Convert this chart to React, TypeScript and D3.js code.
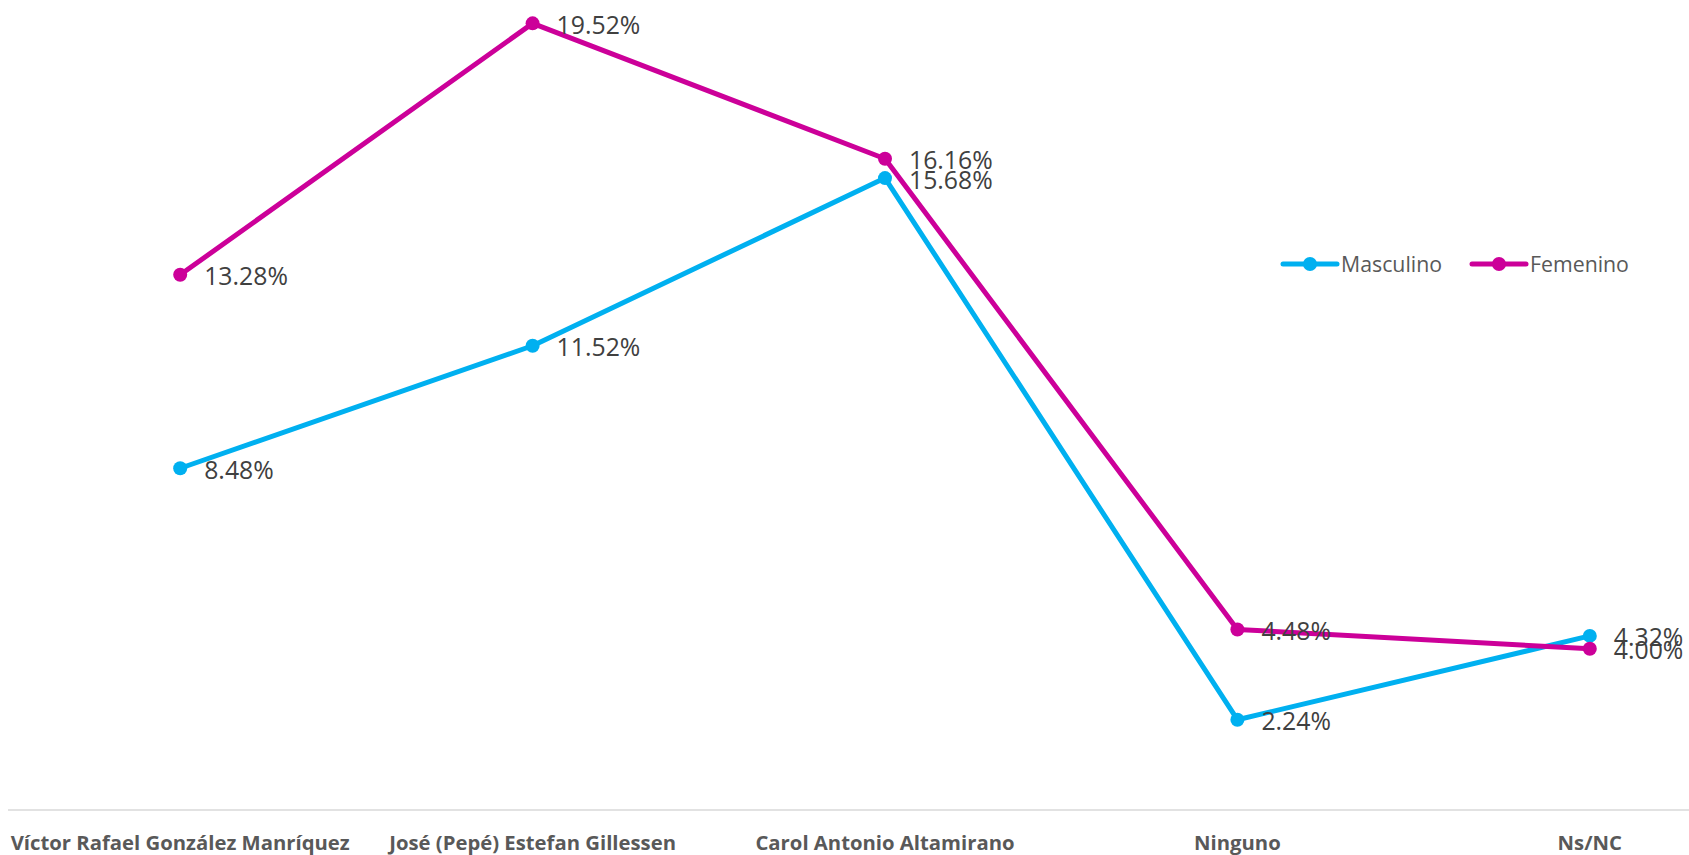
import React from "react";
import * as d3 from "d3";

const categories = [
  "Víctor Rafael González Manríquez",
  "José (Pepé) Estefan Gillessen",
  "Carol Antonio Altamirano",
  "Ninguno",
  "Ns/NC",
];
const masculino = [8.48, 11.52, 15.68, 2.24, 4.32];
const femenino = [13.28, 19.52, 16.16, 4.48, 4.0];
const seriesNames = ["Masculino", "Femenino"];
const seriesColors = ["#00B0F0", "#CC0099"];

const W = 1689;
const H = 855;

export default function App() {
  const x = d3.scaleBand<string>().domain(categories).range([4, 1766]).padding(0);
  const cx = (c: string) => (x(c) as number) + x.bandwidth() / 2;
  const y = d3.scaleLinear().domain([0, 20]).range([810, 4]);
  const line = d3
    .line<number>()
    .x((_, i) => cx(categories[i]))
    .y((d) => y(d));
  const series = [masculino, femenino];
  const legendX = [1283, 1472];

  return (
    <svg
      width={W}
      height={H}
      style={{ position: "absolute", left: 0, top: 0, background: "#fff" }}
      fontFamily="'Open Sans', sans-serif"
    >
      <line x1={8} x2={W} y1={y(0)} y2={y(0)} stroke="#d9d9d9" strokeWidth={1.5} />
      {categories.map((c) => (
        <text
          key={c}
          x={cx(c)}
          y={850}
          textAnchor="middle"
          fontSize={20.3}
          fontWeight={700}
          fill="#595959"
        >
          {c}
        </text>
      ))}
      {series.map((s, si) => (
        <g key={si}>
          <path
            d={line(s) || ""}
            fill="none"
            stroke={seriesColors[si]}
            strokeWidth={5}
            strokeLinejoin="round"
          />
          {s.map((v, i) => (
            <circle key={i} cx={cx(categories[i])} cy={y(v)} r={7} fill={seriesColors[si]} />
          ))}
        </g>
      ))}
      {series.map((s, si) =>
        s.map((v, i) => (
          <text
            key={`${si}-${i}`}
            x={cx(categories[i]) + 24}
            y={y(v) + 10.5}
            fontSize={24.8}
            fill="#404040"
          >
            {v.toFixed(2)}%
          </text>
        ))
      )}
      {seriesNames.map((n, i) => (
        <g key={n}>
          <line
            x1={legendX[i]}
            x2={legendX[i] + 54}
            y1={264}
            y2={264}
            stroke={seriesColors[i]}
            strokeWidth={5}
            strokeLinecap="round"
          />
          <circle cx={legendX[i] + 27} cy={264} r={7} fill={seriesColors[i]} />
          <text x={legendX[i] + 58} y={271.5} fontSize={21.3} fill="#595959">
            {n}
          </text>
        </g>
      ))}
    </svg>
  );
}
